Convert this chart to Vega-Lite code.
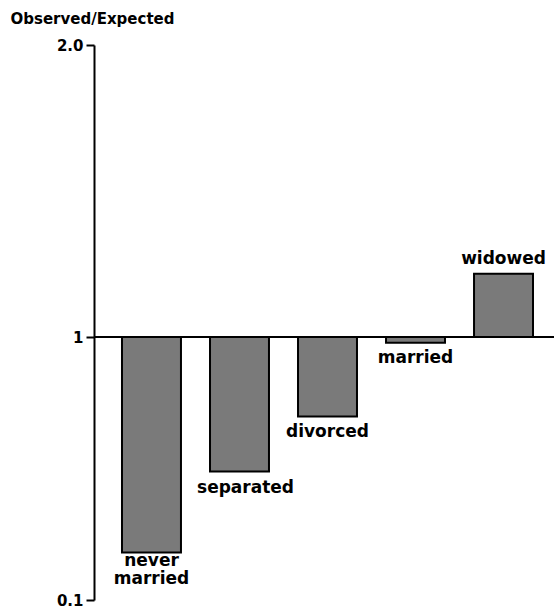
{
  "$schema": "https://vega.github.io/schema/vega-lite/v6.json",
  "width": 460,
  "height": 555,
  "autosize": {"type": "none"},
  "padding": {"left": 94, "top": 45, "right": 0, "bottom": 8},
  "background": "white",
  "config": {"view": {"stroke": null}, "font": "DejaVu Sans"},
  "data": {
    "values": [
      {"status": "never married", "label": "never\nmarried", "ratio": 0.263},
      {"status": "separated", "label": "separated", "ratio": 0.54},
      {"status": "divorced", "label": "divorced", "ratio": 0.728},
      {"status": "married", "label": "married", "ratio": 0.981},
      {"status": "widowed", "label": "widowed", "ratio": 1.217}
    ]
  },
  "encoding": {
    "x": {
      "field": "status",
      "type": "nominal",
      "sort": null,
      "scale": {"range": [28, 439], "paddingInner": 0.33, "paddingOuter": 0},
      "axis": null
    }
  },
  "layer": [
    {
      "mark": {"type": "bar", "fill": "#7a7a7a", "stroke": "black", "strokeWidth": 2},
      "encoding": {
        "y": {
          "field": "ratio",
          "type": "quantitative",
          "scale": {"domain": [0.1, 2.0], "nice": false, "zero": false},
          "axis": {
            "values": [0.1, 1, 2],
            "labelExpr": "datum.value == 1 ? '1' : format(datum.value, '.1f')",
            "grid": false,
            "domainColor": "black",
            "domainWidth": 2,
            "tickColor": "black",
            "tickWidth": 2,
            "tickSize": 8,
            "labelFont": "DejaVu Sans",
            "labelFontSize": 15,
            "labelFontWeight": "bold",
            "labelColor": "black",
            "labelPadding": 3,
            "title": "Observed/Expected",
            "titleFont": "DejaVu Sans",
            "titleFontSize": 15,
            "titleFontWeight": "bold",
            "titleColor": "black",
            "titleAngle": 0,
            "titleAlign": "left",
            "titleBaseline": "middle",
            "titleX": -84,
            "titleY": -27
          }
        },
        "y2": {"datum": 1}
      }
    },
    {
      "mark": {"type": "rule", "color": "black", "strokeWidth": 2},
      "encoding": {
        "y": {"datum": 1},
        "x": {"value": 0},
        "x2": {"value": 460}
      }
    },
    {
      "transform": [{"filter": "datum.status == 'never married'"}],
      "mark": {"type": "text", "baseline": "top", "dy": 1, "fontSize": 17, "fontWeight": "bold", "lineBreak": "\n", "lineHeight": 18, "color": "black"},
      "encoding": {
        "y": {"field": "ratio", "type": "quantitative"},
        "text": {"field": "label"}
      }
    },
    {
      "transform": [{"filter": "datum.ratio < 1 && datum.status != 'separated' && datum.status != 'never married'"}],
      "mark": {"type": "text", "baseline": "top", "dy": 7, "fontSize": 17, "fontWeight": "bold", "color": "black"},
      "encoding": {
        "y": {"field": "ratio", "type": "quantitative"},
        "text": {"field": "label"}
      }
    },
    {
      "transform": [{"filter": "datum.status == 'separated'"}],
      "mark": {"type": "text", "baseline": "top", "dy": 9, "dx": 6, "fontSize": 17, "fontWeight": "bold", "color": "black"},
      "encoding": {
        "y": {"field": "ratio", "type": "quantitative"},
        "text": {"field": "label"}
      }
    },
    {
      "transform": [{"filter": "datum.ratio > 1"}],
      "mark": {"type": "text", "baseline": "alphabetic", "dy": -10, "fontSize": 17, "fontWeight": "bold", "color": "black"},
      "encoding": {
        "y": {"field": "ratio", "type": "quantitative"},
        "text": {"field": "label"}
      }
    }
  ]
}
